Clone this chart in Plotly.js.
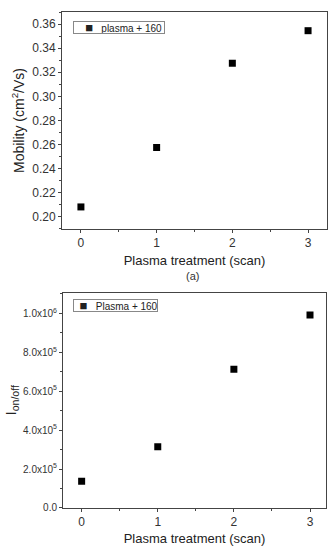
<!DOCTYPE html>
<html><head><meta charset="utf-8">
<script src="https://cdn.plot.ly/plotly-3.0.1.min.js"></script>
<style>html,body{margin:0;padding:0;background:#fff}#c{width:334px;height:546px}</style>
</head><body><div id="c"></div>
<script>
const scans = [0, 1, 2, 3];
const mobility = [0.2083, 0.2576, 0.3275, 0.3545];
const onoff = [137000, 314000, 713000, 991000];
const xTicks = [0, 1, 2, 3];
const mobTicks = [0.20, 0.22, 0.24, 0.26, 0.28, 0.30, 0.32, 0.34, 0.36];
const onoffTickVals = [0, 200000, 400000, 600000, 800000, 1000000];
const onoffTickText = ["0.0", "2.0x10<sup>5</sup>", "4.0x10<sup>5</sup>", "6.0x10<sup>5</sup>", "8.0x10<sup>5</sup>", "1.0x10<sup>6</sup>"];
const seriesNames = ['plasma + 160', 'Plasma + 160'];

const font = "Liberation Sans, Arial, sans-serif";
const mk = {symbol: 'square', size: 7, color: '#000'};

const traces = [
  {x: scans, y: mobility, type: 'scatter', mode: 'markers', marker: mk, name: seriesNames[0], xaxis: 'x', yaxis: 'y'},
  {x: scans, y: onoff, type: 'scatter', mode: 'markers', marker: mk, name: seriesNames[1], xaxis: 'x2', yaxis: 'y2'}
];

const axBase = {showline: true, linecolor: '#444', linewidth: 1, mirror: true, ticks: 'outside', ticklen: 3, tickcolor: '#444', showgrid: false, zeroline: false, tickfont: {family: font, size: 12, color: '#333'}};

function legendBox(name, xl, ytop, w, lead, gap) {
  const sp = '&nbsp;';
  return {text: sp.repeat(lead) + '<span style="font-size:13px">■</span>' + sp.repeat(gap) + name,
    xref: 'paper', yref: 'paper', x: xl / 334, y: 1 - ytop / 546, xanchor: 'left', yanchor: 'top',
    width: w, height: 11, align: 'left', valign: 'middle', showarrow: false,
    bordercolor: '#888', borderwidth: 1, borderpad: 0, bgcolor: '#fff',
    font: {family: font, size: 10, color: '#222'}};
}

const layout = {
  width: 334, height: 546, margin: {l: 0, r: 0, t: 0, b: 0},
  paper_bgcolor: '#fff', plot_bgcolor: '#fff', showlegend: false,
  font: {family: font, color: '#222'},
  xaxis: Object.assign({}, axBase, {domain: [0.1856, 0.979], range: [-0.25, 3.25], tickvals: xTicks, anchor: 'y',
    minor: {dtick: 0.5, ticklen: 2, ticks: 'outside', tickcolor: '#444'},
    title: {text: 'Plasma treatment (scan)', font: {family: font, size: 13, color: '#222'}, standoff: 6}}),
  yaxis: Object.assign({}, axBase, {domain: [0.5806, 0.978], range: [0.19, 0.37], tickvals: mobTicks, tickformat: '.2f', anchor: 'x',
    minor: {dtick: 0.01, ticklen: 2, ticks: 'outside', tickcolor: '#444'},
    title: {text: 'Mobility (cm<sup>2</sup>/Vs)', font: {family: font, size: 14, color: '#222'}, standoff: 4}}),
  xaxis2: Object.assign({}, axBase, {domain: [0.1886, 0.976], range: [-0.245, 3.21], tickvals: xTicks, anchor: 'y2',
    minor: {dtick: 0.5, ticklen: 2, ticks: 'outside', tickcolor: '#444'},
    title: {text: 'Plasma treatment (scan)', font: {family: font, size: 13, color: '#222'}, standoff: 5}}),
  yaxis2: Object.assign({}, axBase, {domain: [0.0696, 0.464], range: [0, 1106000], tickvals: onoffTickVals, ticktext: onoffTickText, anchor: 'x2',
    tickfont: {family: font, size: 10, color: '#333'},
    minor: {dtick: 100000, ticklen: 2, ticks: 'outside', tickcolor: '#444'},
    title: {text: 'I<sub>on/off</sub>', font: {family: font, size: 15, color: '#222'}, standoff: 2}}),
  annotations: [
    legendBox(seriesNames[0], 73, 21, 90, 4, 3),
    legendBox(seriesNames[1], 73, 299, 83, 2, 3),
    {text: '(a)', x: 0.575, y: 1 - 276/546, xref: 'paper', yref: 'paper', showarrow: false, font: {family: font, size: 11, color: '#333'}}
  ]
};

Plotly.newPlot('c', traces, layout, {staticPlot: true});
</script></body></html>
